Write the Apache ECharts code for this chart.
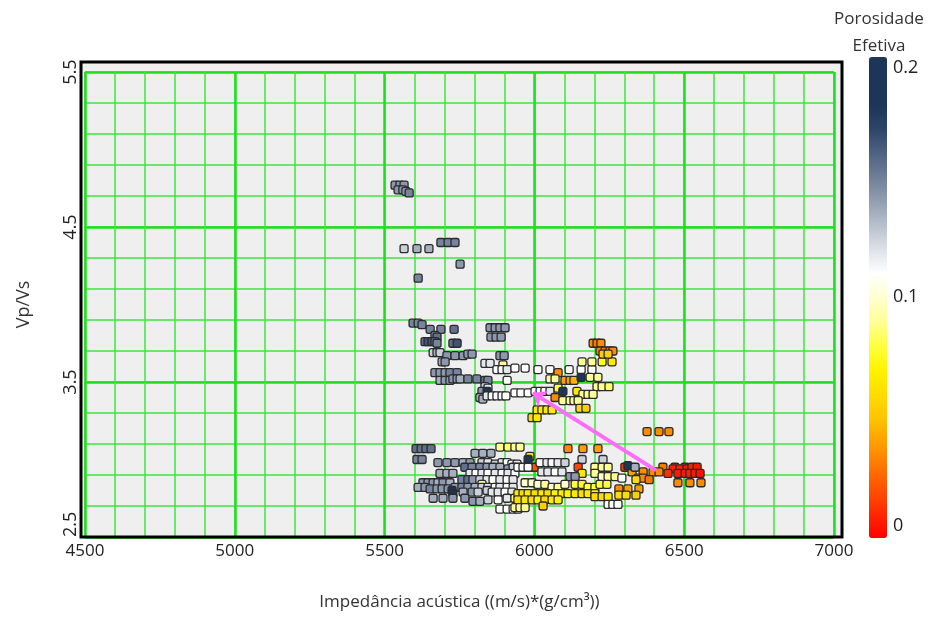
<!DOCTYPE html>
<html>
<head>
<meta charset="utf-8">
<script src="https://cdn.jsdelivr.net/npm/echarts@6/dist/echarts.min.js"></script>
<style>
html,body{margin:0;padding:0;background:#fff;}
#chart{width:936px;height:619px;}
</style>
</head>
<body>
<div id="chart"></div>
<script>
// ---- data: [Impedância acústica, Vp/Vs, Porosidade efetiva] ----
const grupoTopo = [
  [5535,4.77,0.142],[5551,4.77,0.142],[5565,4.77,0.142],[5545,4.74,0.142],[5561,4.74,0.142],[5571,4.73,0.142],[5582,4.72,0.148],
  [5565,4.36,0.125],[5608,4.36,0.135],[5648,4.36,0.135],
  [5688,4.40,0.148],[5712,4.40,0.148],[5735,4.40,0.148],
  [5752,4.26,0.142],[5612,4.17,0.148]
];
const grupoSuperiorEsq = [
  [5595,3.88,0.148],[5612,3.88,0.148],[5625,3.87,0.148],
  [5652,3.84,0.148],[5688,3.84,0.148],[5732,3.84,0.155],
  [5668,3.80,0.148],[5675,3.79,0.155],
  [5635,3.76,0.155],[5645,3.76,0.165],[5658,3.76,0.165],[5668,3.76,0.155],[5675,3.75,0.148],
  [5728,3.75,0.155],[5742,3.75,0.165],
  [5662,3.69,0.125],[5675,3.69,0.135],[5685,3.69,0.125],
  [5708,3.67,0.142],[5735,3.67,0.142],[5762,3.67,0.142],[5778,3.68,0.142],[5792,3.68,0.142],
  [5692,3.63,0.135],[5702,3.63,0.142],
  [5668,3.56,0.142],[5685,3.56,0.142],[5702,3.56,0.142],[5718,3.56,0.148],[5742,3.56,0.148],
  [5685,3.51,0.135],[5702,3.51,0.142],[5718,3.51,0.142],[5728,3.52,0.142],[5742,3.52,0.142],[5752,3.52,0.135],
  [5778,3.52,0.148],[5808,3.52,0.148],[5835,3.51,0.155],[5845,3.51,0.148]
];
const grupoSuperiorMeio = [
  [5852,3.85,0.142],[5869,3.85,0.142],[5885,3.85,0.142],[5902,3.85,0.142],
  [5855,3.79,0.142],[5872,3.79,0.142],[5889,3.79,0.142],
  [5885,3.67,0.142],[5899,3.67,0.142],
  [5835,3.62,0.118],[5852,3.62,0.118],[5895,3.61,0.09],
  [5875,3.58,0.11],[5892,3.58,0.11],[5909,3.58,0.118],[5935,3.59,0.11],[5969,3.59,0.11],[6012,3.58,0.11],[6052,3.58,0.11],
  [5909,3.51,0.11],
  [5835,3.47,0.125],[5845,3.46,0.118],[5825,3.44,0.142],[5842,3.44,0.19],
  [5818,3.40,0.135],[5828,3.39,0.135],[5842,3.41,0.118],[5859,3.41,0.11],[5875,3.41,0.11],[5892,3.41,0.11],[5905,3.41,0.11],
  [5935,3.43,0.11],[5955,3.43,0.11],[5979,3.43,0.11],[6002,3.44,0.11],[6019,3.44,0.11],[6035,3.44,0.11],[6052,3.44,0.118]
];
const grupoSuperiorDir = [
  [6079,3.56,0.035],[6116,3.58,0.11],[6156,3.58,0.11],[6192,3.58,0.11],
  [6159,3.63,0.09],[6192,3.63,0.09],[6226,3.63,0.075],[6259,3.63,0.065],
  [6196,3.75,0.035],[6209,3.75,0.03],[6222,3.75,0.035],
  [6219,3.70,0.03],[6236,3.70,0.03],[6252,3.70,0.03],[6262,3.70,0.035],
  [6229,3.68,0.055],[6246,3.68,0.055],
  [6102,3.51,0.04],[6119,3.51,0.04],[6132,3.51,0.045],
  [6052,3.52,0.09],[6069,3.52,0.09],
  [6156,3.53,0.19],[6186,3.53,0.09],[6212,3.53,0.09],
  [6209,3.47,0.09],[6226,3.47,0.09],[6249,3.47,0.085],
  [6079,3.46,0.08],[6142,3.44,0.065],[6095,3.44,0.19],
  [6162,3.42,0.09],[6179,3.42,0.09],[6196,3.42,0.09],
  [6069,3.40,0.035],
  [6095,3.38,0.09],[6119,3.38,0.09],[6132,3.38,0.09],[6146,3.38,0.09],
  [6152,3.33,0.06],[6172,3.33,0.055],
  [6009,3.32,0.065],[6025,3.32,0.065],[6042,3.32,0.065],[6059,3.32,0.065],
  [5992,3.27,0.06],[6009,3.27,0.065]
];
const grupoInferiorEsq = [
  [5605,3.07,0.155],[5622,3.07,0.155],[5638,3.07,0.155],[5655,3.07,0.155],
  [5885,3.08,0.09],[5912,3.08,0.085],[5935,3.08,0.09],
  [5802,3.04,0.135],[5828,3.04,0.135],[5855,3.04,0.135],
  [5608,3.00,0.148],[5625,3.00,0.148],
  [5678,2.98,0.142],[5708,2.98,0.142],[5735,2.98,0.142],[5762,2.98,0.135],[5785,2.98,0.142],
  [5825,2.98,0.125],[5845,2.98,0.118],[5869,2.97,0.125],[5892,2.98,0.118],[5909,2.98,0.11],[5925,2.97,0.11],[5942,2.97,0.118],
  [5768,2.95,0.155],[5792,2.95,0.148],[5818,2.95,0.148],[5842,2.95,0.142],[5862,2.95,0.135],[5885,2.95,0.135],[5912,2.94,0.142],[5929,2.95,0.125],
  [5685,2.91,0.135],[5708,2.91,0.135],[5728,2.91,0.135],
  [5785,2.91,0.118],[5805,2.91,0.11],[5825,2.91,0.118],[5845,2.91,0.11],[5869,2.91,0.118],[5892,2.91,0.11],[5912,2.91,0.118],[5935,2.91,0.11],
  [5628,2.85,0.142],[5645,2.85,0.142],[5662,2.85,0.142],[5678,2.85,0.135],[5695,2.85,0.142],[5718,2.85,0.135],
  [5758,2.87,0.148],[5778,2.87,0.155],[5795,2.87,0.142],[5818,2.87,0.125],[5842,2.87,0.118],[5862,2.87,0.11],[5885,2.87,0.118],[5909,2.87,0.11],[5929,2.87,0.118],
  [5825,2.84,0.09],
  [5612,2.82,0.135],[5635,2.82,0.142],[5652,2.81,0.148],[5675,2.81,0.142],[5692,2.81,0.142],[5712,2.81,0.142],
  [5735,2.82,0.142],[5758,2.82,0.148],[5778,2.82,0.142],[5802,2.82,0.135],[5825,2.82,0.125],[5845,2.82,0.118],[5869,2.82,0.11],[5885,2.82,0.118],[5909,2.82,0.11],[5929,2.82,0.118],
  [5725,2.80,0.19],[5728,2.78,0.19],
  [5762,2.79,0.135],[5792,2.79,0.142],[5812,2.79,0.125],[5842,2.80,0.125],[5859,2.79,0.118],[5879,2.79,0.118],[5902,2.79,0.11],[5925,2.79,0.118],
  [5662,2.75,0.135],[5695,2.75,0.135],[5728,2.75,0.142],
  [5768,2.75,0.142],[5795,2.73,0.142],[5818,2.73,0.135],[5845,2.74,0.125],[5879,2.74,0.11],[5909,2.75,0.118],[5935,2.75,0.085],
  [5885,2.68,0.11],[5909,2.68,0.11],[5929,2.68,0.11],[5945,2.68,0.11]
];
const grupoInferiorDir = [
  [5952,3.08,0.09],
  [6112,3.07,0.035],[6162,3.07,0.04],[6212,3.07,0.04],
  [6159,3.00,0.125],[6229,3.00,0.125],
  [5985,3.02,0.065],[5979,3.00,0.18],
  [5999,2.95,0.02],[6146,2.95,0.018],[6159,2.91,0.065],
  [6019,2.98,0.11],[6042,2.98,0.118],[6059,2.98,0.11],[6079,2.98,0.118],[6102,2.98,0.125],
  [6202,2.95,0.09],[6226,2.95,0.09],[6246,2.95,0.09],
  [6202,2.91,0.09],[6226,2.89,0.1],[6246,2.89,0.09],[6269,2.89,0.09],[6292,2.88,0.11],
  [5945,2.95,0.11],[5962,2.95,0.11],[5979,2.95,0.11],
  [6025,2.92,0.118],[6045,2.92,0.118],[6069,2.92,0.11],[6092,2.92,0.118],
  [6119,2.89,0.142],[6136,2.89,0.142],
  [5969,2.85,0.1],[5992,2.85,0.1],[6012,2.84,0.1],[6035,2.84,0.09],[6059,2.82,0.1],[6079,2.82,0.09],[6102,2.84,0.1],
  [6136,2.84,0.08],[6159,2.84,0.075],[6179,2.82,0.08],[6202,2.82,0.08],[6219,2.84,0.08],[6242,2.84,0.08],
  [5945,2.78,0.065],[5962,2.78,0.06],[5979,2.78,0.065],[6002,2.78,0.06],[6025,2.78,0.065],[6045,2.78,0.06],[6069,2.78,0.07],
  [6092,2.78,0.065],[6112,2.78,0.07],[6136,2.78,0.065],[6159,2.78,0.06],[6179,2.78,0.065],[6202,2.78,0.07],
  [6202,2.76,0.06],[6226,2.76,0.06],[6246,2.76,0.065],
  [5945,2.74,0.06],[5969,2.74,0.065],[5992,2.74,0.06],[6012,2.74,0.07],[6035,2.74,0.06],[6059,2.74,0.065],[6079,2.74,0.07],
  [6029,2.70,0.055],
  [5935,2.69,0.09],[5952,2.69,0.09],[5969,2.69,0.09],
  [6246,2.71,0.11],[6262,2.71,0.11],[6279,2.71,0.11]
];
const grupoDireita = [
  [6376,3.18,0.035],[6416,3.18,0.035],[6449,3.18,0.035],
  [6429,2.95,0.03],[6469,2.95,0.015],[6503,2.95,0.01],
  [6463,2.94,0.008],[6486,2.94,0.008],[6509,2.94,0.006],[6526,2.95,0.008],[6543,2.95,0.006],
  [6396,2.92,0.035],[6416,2.92,0.035],[6446,2.91,0.012],
  [6479,2.91,0.006],[6503,2.91,0.006],[6519,2.91,0.008],[6536,2.91,0.006],[6553,2.91,0.004],
  [6479,2.85,0.035],[6519,2.85,0.035],[6556,2.85,0.035],
  [6302,2.95,0.015],[6326,2.92,0.04],[6363,2.92,0.035],[6346,2.88,0.035],[6363,2.88,0.035],[6383,2.87,0.03],[6339,2.87,0.06],
  [6312,2.96,0.19],[6336,2.95,0.135],
  [6282,2.81,0.035],[6312,2.81,0.04],[6349,2.81,0.04],
  [6282,2.77,0.06],[6306,2.77,0.06],[6339,2.77,0.055]
];
// arrow annotation (start -> end), data units
const setaInicio = [6406, 2.93];
const setaFim = [5995, 3.43];
// axes / ticks
const xMin = 4500, xMax = 7000, xMinor = 100, xMajor = 500;
const yMin = 2.5, yMax = 5.5, yMinor = 0.2, yMajor = 1;
const porMin = 0, porMax = 0.2, porTick = 0.1;
const xTitle = 'Impedância acústica ((m/s)*(g/cm³))';
const yTitle = 'Vp/Vs';
const cbTitle = 'Porosidade\nEfetiva';

const pontos = [].concat(grupoTopo, grupoSuperiorEsq, grupoSuperiorMeio, grupoSuperiorDir,
  grupoInferiorEsq, grupoInferiorDir, grupoDireita);

const FONT = 'Open Sans';
const chart = echarts.init(document.getElementById('chart'));
const isMajorY = v => Math.abs((v - yMin) / yMajor - Math.round((v - yMin) / yMajor)) < 1e-6;

chart.setOption({
  animation: false,
  backgroundColor: '#ffffff',
  textStyle: { fontFamily: FONT },
  title: {
    text: cbTitle, left: 874, top: 1, textAlign: 'center',
    textStyle: { fontFamily: FONT, fontSize: 17, fontWeight: 'normal', color: '#333', lineHeight: 27 }
  },
  graphic: [
    { type: 'rect', z: -10, silent: true, shape: { x: 81, y: 62, width: 761, height: 475 }, style: { fill: '#efefef' } },
    { type: 'rect', z: 100, silent: true, shape: { x: 81, y: 62, width: 761, height: 475 }, style: { fill: null, stroke: '#000', lineWidth: 3 } }
  ],
  grid: [
    { left: 85, right: 102, top: 72, bottom: 82 },
    { left: 869, width: 18, top: 68, bottom: 93 }
  ],
  xAxis: [
    {
      gridIndex: 0, type: 'value', min: xMin, max: xMax, interval: xMinor,
      name: xTitle, nameLocation: 'middle', nameGap: 57,
      nameTextStyle: { fontFamily: FONT, fontSize: 17, color: '#333' },
      axisLine: { show: false }, axisTick: { show: false },
      axisLabel: { interval: 0, margin: 6, fontFamily: FONT, fontSize: 17, color: '#222',
        formatter: v => (Math.round(v) % xMajor === 0 ? String(Math.round(v)) : '') },
      splitLine: { show: true, lineStyle: { color: '#3de63d', width: 1.5 } }
    },
    {
      gridIndex: 0, type: 'value', min: xMin, max: xMax, interval: xMajor, position: 'bottom',
      axisLine: { show: false }, axisTick: { show: false }, axisLabel: { show: false },
      splitLine: { show: true, lineStyle: { color: '#1fe01f', width: 2.5 } }
    },
    {
      gridIndex: 1, type: 'value', min: 0, max: 1, show: false
    }
  ],
  yAxis: [
    {
      gridIndex: 0, type: 'value', min: yMin, max: yMax, interval: yMinor,
      name: yTitle, nameLocation: 'middle', nameGap: 52, nameRotate: 90,
      nameTextStyle: { fontFamily: FONT, fontSize: 18, color: '#333' },
      axisLine: { show: false }, axisTick: { show: false },
      axisLabel: { interval: 0, rotate: 90, margin: 5, fontFamily: FONT, fontSize: 18, color: '#222',
        alignMinLabel: 'left',
        formatter: v => (isMajorY(v) ? v.toFixed(1) : '') },
      splitLine: { show: true, lineStyle: { color: '#3de63d', width: 1.5 } }
    },
    {
      gridIndex: 0, type: 'value', min: yMin, max: yMax, interval: yMajor, position: 'left',
      axisLine: { show: false }, axisTick: { show: false }, axisLabel: { show: false },
      splitLine: { show: true, lineStyle: { color: '#1fe01f', width: 2.5 } }
    },
    {
      gridIndex: 1, type: 'value', min: porMin, max: porMax, interval: porTick, position: 'right',
      axisLine: { show: false }, axisTick: { show: false }, splitLine: { show: false },
      axisLabel: { margin: 6, fontFamily: FONT, fontSize: 18, color: '#222',
        formatter: v => (Math.abs(v) < 1e-9 ? '0' : String(Math.round(v * 10) / 10)) }
    }
  ],
  visualMap: {
    type: 'continuous', seriesIndex: 0, dimension: 2, min: porMin, max: porMax,
    left: 869, top: 57, itemWidth: 18, itemHeight: 481, padding: 0,
    calculable: false, text: null, showLabel: false, hoverLink: false,
    inRange: { color: [
      '#ff0000','#ff2800','#ff5000','#ff7700','#ffa000','#ffc400','#ffdd00','#fff400','#ffff40','#ffff98',
      '#ffffd0','#ffffff','#dde1e8','#b8c0cc','#929eb2','#6f7f98','#4f6282','#2e4569','#1c3559','#1c3559','#1c3559'] }
  },
  series: [
    {
      type: 'scatter', xAxisIndex: 0, yAxisIndex: 0, data: pontos,
      symbol: 'roundRect', symbolSize: 8,
      itemStyle: { borderColor: '#2b2b2b', borderWidth: 1.3, opacity: 1 },
      z: 5
    },
    {
      type: 'scatter', xAxisIndex: 0, yAxisIndex: 0, data: [], z: 10,
      markLine: {
        silent: true, animation: false, z: 10,
        symbol: ['none', 'arrow'], symbolSize: [14, 12],
        label: { show: false },
        lineStyle: { color: '#ff6cff', width: 4, type: 'solid', opacity: 1 },
        data: [[{ coord: setaInicio }, { coord: setaFim }]]
      }
    }
  ]
});
</script>
</body>
</html>
